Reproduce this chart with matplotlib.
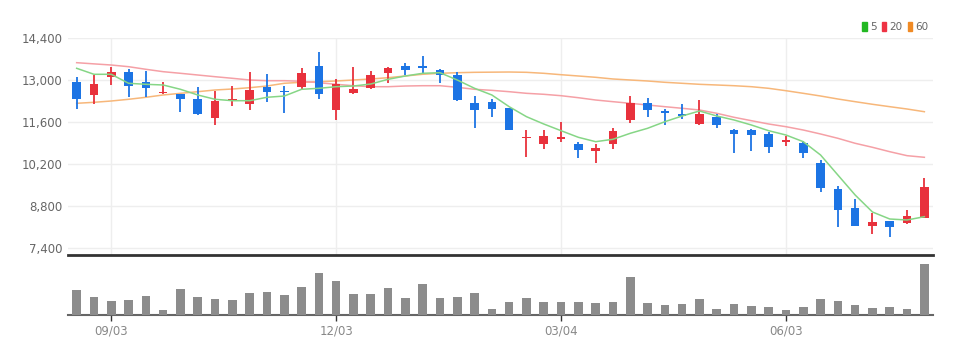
import matplotlib
matplotlib.use('Agg')
import matplotlib.pyplot as plt
from matplotlib.patches import Patch
from matplotlib.ticker import FuncFormatter

# weekly candles, 50 weeks
opens = [12929, 12494, 13116, 13273, 12929, 12561, 12528, 12381, 11746, 12314,
         12204, 12772, 12648, 12782, 13474, 12003, 12581, 12728, 13250, 13474,
         13474, 13340, 13163, 12227, 12281, 12060, 11057, 10857, 11044, 10880,
         10643, 10857, 11669, 12247, 11970, 11859, 11546, 11759, 11334, 11334,
         11191, 10933, 10910, 10221, 9362, 8737, 8125, 8292, 8236, 8403]
closes = [12361, 12882, 13273, 12795, 12749, 12615, 12381, 11879, 12314, 12361,
          12682, 12595, 12595, 13240, 12538, 12862, 12695, 13173, 13417, 13340,
          13407, 13163, 12327, 12003, 12027, 11334, 11111, 11134, 11111, 10666,
          10743, 11301, 12247, 12003, 11913, 11803, 11881, 11502, 11191, 11167,
          10756, 10998, 10576, 9386, 8660, 8125, 8269, 8102, 8460, 9416]
highs = [13096, 13183, 13451, 13384, 13317, 12949, 12528, 12782, 12648, 12815,
         13284, 13197, 12815, 13397, 13932, 13029, 13451, 13317, 13451, 13564,
         13818, 13364, 13263, 12481, 12361, 12080, 11334, 11334, 11612, 10944,
         10867, 11412, 12481, 12394, 12036, 12194, 12327, 11870, 11358, 11358,
         11278, 11144, 10967, 10332, 9473, 9028, 8570, 8292, 8660, 9720]
lows = [12027, 12204, 12849, 12448, 12428, 12538, 11946, 11826, 11502, 12137,
        12003, 12270, 11913, 12695, 12361, 11669, 12538, 12695, 12896, 13173,
        13197, 12896, 12304, 11391, 11759, 11334, 10422, 10690, 10944, 10388,
        10222, 10690, 11579, 11759, 11492, 11692, 11500, 11391, 10567, 10633,
        10577, 10800, 10388, 9272, 8102, 8125, 7848, 7748, 8192, 8383]

ma5 = [13397, 13197, 13197, 12896, 12862, 12839, 12695, 12505, 12361, 12314,
       12314, 12428, 12470, 12695, 12728, 12782, 12805, 12872, 13029, 13140,
       13230, 13250, 13006, 12728, 12505, 12114, 11780, 11535, 11311, 11090,
       10944, 11024, 11224, 11391, 11612, 11803, 11970, 11803, 11669, 11502,
       11311, 11167, 10944, 10499, 9830, 9161, 8593, 8359, 8326, 8436]
ma20 = [13585, 13545, 13507, 13451, 13364, 13284, 13230, 13173, 13116, 13063,
        13006, 12983, 12983, 12963, 12916, 12862, 12815, 12782, 12782, 12805,
        12815, 12815, 12762, 12695, 12660, 12615, 12561, 12528, 12481, 12414,
        12337, 12281, 12227, 12170, 12114, 12060, 12003, 11893, 11759, 11646,
        11535, 11445, 11334, 11201, 11057, 10890, 10756, 10609, 10476, 10422]
ma60 = [12227, 12260, 12304, 12361, 12428, 12505, 12561, 12615, 12672, 12705,
        12749, 12805, 12896, 12929, 12949, 12973, 13006, 13040, 13083, 13140,
        13197, 13230, 13250, 13263, 13268, 13273, 13263, 13230, 13183, 13140,
        13096, 13040, 13006, 12973, 12929, 12896, 12862, 12839, 12815, 12782,
        12728, 12648, 12561, 12471, 12371, 12281, 12194, 12114, 12036, 11946]

volume = [253, 177, 143, 150, 193, 53, 260, 180, 160, 150,
          223, 230, 200, 280, 420, 340, 213, 213, 270, 173,
          310, 173, 180, 223, 60, 127, 167, 127, 133, 133,
          117, 127, 387, 117, 100, 113, 160, 60, 110, 93,
          83, 50, 77, 160, 143, 100, 70, 80, 60, 517]

tick_pos = [2, 15, 28, 41]
tick_labels = ['09/03', '12/03', '03/04', '06/03']
price_ticks = [7400, 8800, 10200, 11600, 13000, 14400]

RED = '#e8313c'
BLUE = '#1c74e4'
plt.rcParams['font.family'] = ['Liberation Sans Narrow', 'DejaVu Sans']

fig = plt.figure(figsize=(9.73, 3.54), dpi=100)
ax = fig.add_axes([0.0699, 0.2797, 0.889, 0.6121])
axv = fig.add_axes([0.0699, 0.1102, 0.889, 0.161], sharex=ax)

x = list(range(len(opens)))

# candles
for i in x:
    up = closes[i] >= opens[i]
    c = RED if up else BLUE
    ax.vlines(i, lows[i], highs[i], color=c, linewidth=1.3, zorder=3)
    lo = min(opens[i], closes[i])
    h = max(abs(closes[i] - opens[i]), 40)
    ax.bar(i, h, 0.5, bottom=lo, color=c, zorder=4)

ax.plot(x, ma60, color='#f7b77a', linewidth=1.1, zorder=2)
ax.plot(x, ma20, color='#f5a0a6', linewidth=1.1, zorder=2)
ax.plot(x, ma5, color='#86d686', linewidth=1.1, zorder=5)

ax.set_xlim(-0.5, 49.5)
ax.set_ylim(7156, 14400)
ax.set_yticks(price_ticks)
ax.yaxis.set_major_formatter(FuncFormatter(lambda v, p: f'{int(v):,}'))
ax.set_xticks(tick_pos)
ax.tick_params('x', length=0, labelbottom=False)
ax.tick_params('y', length=0, labelsize=8.5, labelcolor='#666666', pad=4)
ax.grid(True, color='#eeeeee', linewidth=1)
ax.set_axisbelow(True)
for s in ['top', 'right', 'left']:
    ax.spines[s].set_visible(False)
ax.spines['bottom'].set_color('#333333')
ax.spines['bottom'].set_linewidth(2)

# volume
axv.bar(x, volume, 0.5, color='#8c8c8c', zorder=3)
axv.set_ylim(0, 575)
axv.set_yticks([])
axv.set_xticks(tick_pos)
axv.set_xticklabels(tick_labels)
axv.tick_params('x', length=4, width=1, color='#333333', labelsize=8.5,
                labelcolor='#888888', pad=3)
for s in ['top', 'right', 'left']:
    axv.spines[s].set_visible(False)
axv.spines['bottom'].set_color('#666666')
axv.spines['bottom'].set_linewidth(1.5)

handles = [Patch(color='#22b822', label='5'),
           Patch(color='#ee3344', label='20'),
           Patch(color='#f08a24', label='60')]
fig.legend(handles=handles, loc='upper right', bbox_to_anchor=(0.962, 0.958),
           ncol=3, frameon=False, fontsize=7.5, handlelength=0.45,
           handleheight=1.0, handletextpad=0.3, columnspacing=0.5,
           labelcolor='#666666', borderpad=0.2)

fig.savefig('out.png', dpi=100, facecolor='white')
